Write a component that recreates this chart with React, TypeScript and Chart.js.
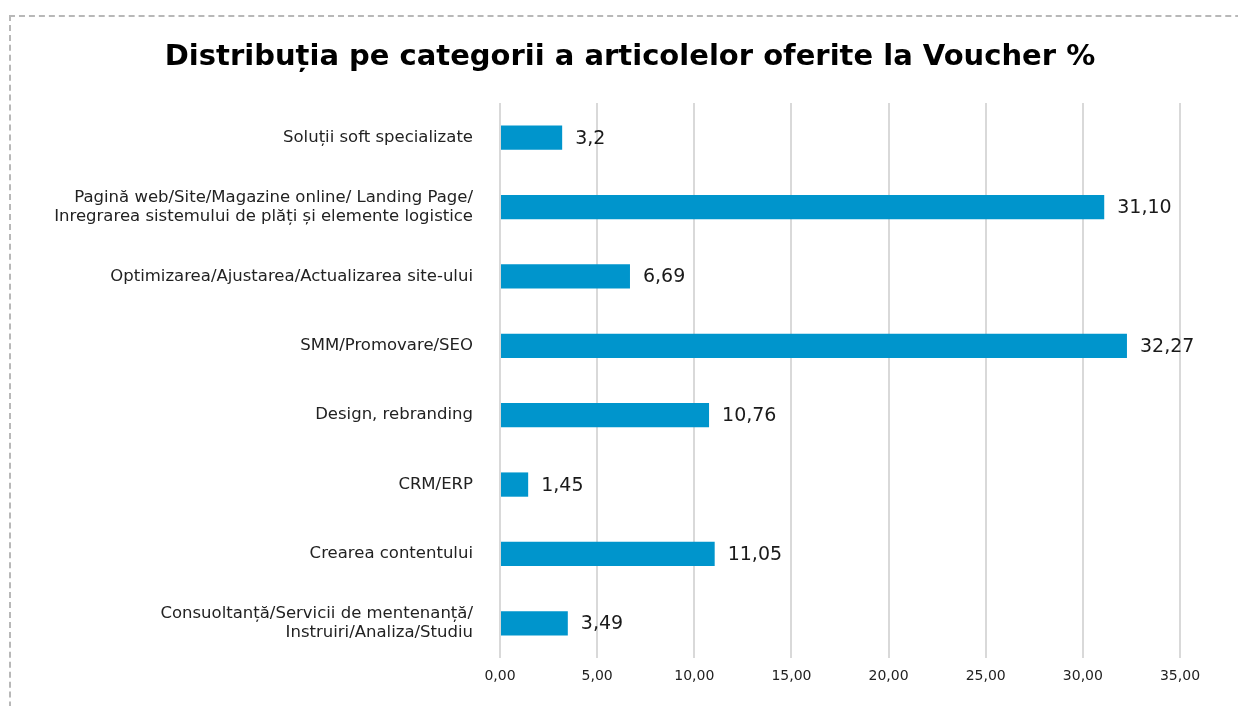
import React, { useEffect, useRef } from "react";
import { Chart, registerables } from "chart.js";

Chart.register(...registerables);

const titleText = "Distribuția pe categorii a articolelor oferite la Voucher %";
const categories: (string | string[])[] = [
  "Soluții soft specializate",
  ["Pagină web/Site/Magazine online/ Landing Page/", "Inregrarea sistemului de plăți și elemente logistice"],
  "Optimizarea/Ajustarea/Actualizarea site-ului",
  "SMM/Promovare/SEO",
  "Design, rebranding",
  "CRM/ERP",
  "Crearea contentului",
  ["Consuoltanță/Servicii de mentenanță/", "Instruiri/Analiza/Studiu"],
];
const values = [3.2, 31.1, 6.69, 32.27, 10.76, 1.45, 11.05, 3.49];
const valueLabels = ["3,2", "31,10", "6,69", "32,27", "10,76", "1,45", "11,05", "3,49"];
const xTicks = [0, 5, 10, 15, 20, 25, 30, 35];

const FONT = "'DejaVu Sans', 'Noto Sans', sans-serif";

const titlePlugin = {
  id: "customTitle",
  afterDraw(chart: any) {
    const ctx = chart.ctx;
    ctx.save();
    ctx.font = `bold 29px ${FONT}`;
    ctx.fillStyle = "#000";
    ctx.textAlign = "center";
    ctx.textBaseline = "middle";
    ctx.fillText(titleText, 630, 57);
    ctx.restore();
  },
};

const valueLabelPlugin = {
  id: "valueLabels",
  afterDatasetsDraw(chart: any) {
    const ctx = chart.ctx;
    const meta = chart.getDatasetMeta(0);
    ctx.save();
    ctx.font = `19px ${FONT}`;
    ctx.fillStyle = "#1a1a1a";
    ctx.textAlign = "left";
    ctx.textBaseline = "middle";
    meta.data.forEach((bar: any, i: number) => {
      ctx.fillText(valueLabels[i], bar.x + 13, bar.y + 1);
    });
    ctx.restore();
  },
};

export default function App() {
  const ref = useRef<HTMLCanvasElement | null>(null);
  useEffect(() => {
    if (!ref.current) return;
    const chart = new Chart(ref.current, {
      type: "bar",
      data: {
        labels: categories,
        datasets: [
          {
            data: values,
            backgroundColor: "#0095CC",
            borderWidth: 0,
            barPercentage: 0.7,
            categoryPercentage: 0.5,
          },
        ],
      },
      options: {
        indexAxis: "y",
        responsive: false,
        animation: false,
        layout: { padding: { left: 0, right: 58, top: 103, bottom: 0 } },
        plugins: {
          legend: { display: false },
          tooltip: { enabled: false },
          title: { display: false },
        },
        scales: {
          x: {
            min: 0,
            max: 35,
            afterBuildTicks(scale: any) {
              scale.ticks = xTicks.map((v) => ({ value: v }));
            },
            afterFit(scale: any) {
              scale.height = 48;
            },
            grid: { color: "#d9d9d9", lineWidth: 2, drawTicks: false },
            border: { display: false },
            ticks: {
              padding: 10,
              color: "#222",
              font: { family: FONT, size: 14 },
              callback: (v: any) => Number(v).toFixed(2).replace(".", ","),
            },
          },
          y: {
            grid: { display: false, drawTicks: false },
            border: { display: false },
            afterFit(scale: any) {
              scale.width = 500;
            },
            ticks: {
              padding: 27,
              color: "#222",
              font: { family: FONT, size: 16.5, lineHeight: 1.15 },
            },
          },
        },
      },
      plugins: [valueLabelPlugin, titlePlugin],
    });
    return () => chart.destroy();
  }, []);

  return (
    <div style={{ position: "fixed", left: 0, top: 0, width: 1238, height: 706, background: "#fff" }}>
      <div
        style={{
          position: "absolute",
          left: 9,
          top: 15,
          width: 1300,
          height: 800,
          borderTop: "2px dashed #b8b8b8",
          borderLeft: "2px dashed #b8b8b8",
        }}
      />
      <canvas ref={ref} width={1238} height={706} style={{ position: "absolute", left: 0, top: 0 }} />
    </div>
  );
}
